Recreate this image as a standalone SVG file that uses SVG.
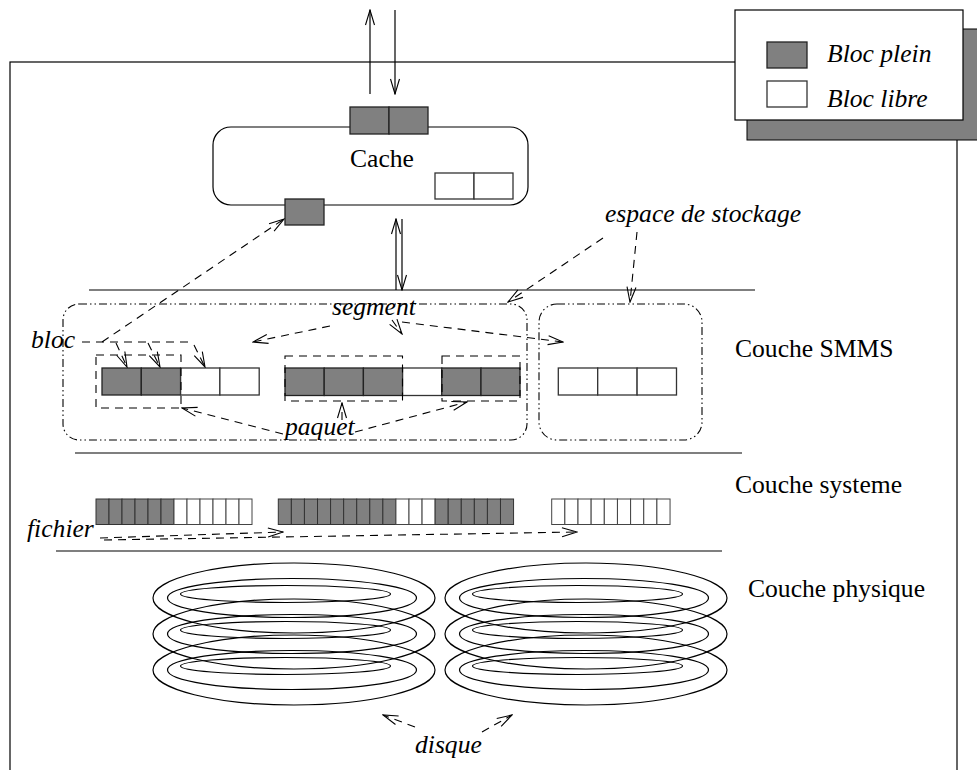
<svg xmlns="http://www.w3.org/2000/svg" width="977" height="770" viewBox="0 0 977 770">
  <defs>
    <style>
      .ln { fill: none; stroke: #000; stroke-width: 1.2; }
      .dash { fill: none; stroke: #000; stroke-width: 1.1; stroke-dasharray: 8 6; }
      .dd { fill: none; stroke: #000; stroke-width: 1.1; stroke-dasharray: 8 3 1.5 3 1.5 3; }
      .full { fill: #808080; stroke: #222; stroke-width: 1.3; }
      .free { fill: #fff; stroke: #333; stroke-width: 1.3; }
      .cell-full { fill: #808080; stroke: #333; stroke-width: 1; }
      .cell-free { fill: #fff; stroke: #444; stroke-width: 1; }
      .disk { fill: none; stroke: #000; stroke-width: 1.2; }
      .t { font-family: "Liberation Serif", "Times New Roman", serif; font-size: 25.6px; fill: #000; }
      .ti { font-family: "Liberation Serif", "Times New Roman", serif; font-size: 25.6px; font-style: italic; fill: #000; }
    </style>
    <marker id="arr" viewBox="-16 -6 17 12" refX="0" refY="0" markerWidth="17" markerHeight="12" markerUnits="userSpaceOnUse" orient="auto">
      <path d="M-15,-4.5 L0,0 L-15,4.5" fill="none" stroke="#000" stroke-width="1.1" stroke-dasharray="none"/>
    </marker>
    <g id="disk-stack">
      <!-- three platters, each with three concentric tracks -->
      <ellipse class="disk" cx="0" cy="0" rx="141" ry="35"/>
      <ellipse class="disk" cx="-2" cy="0" rx="124.5" ry="19.5"/>
      <ellipse class="disk" cx="-8.5" cy="-4" rx="105" ry="8.5"/>
      <ellipse class="disk" cx="0" cy="36" rx="141" ry="35"/>
      <ellipse class="disk" cx="-2" cy="36" rx="124.5" ry="19.5"/>
      <ellipse class="disk" cx="-8.5" cy="32" rx="105" ry="8.5"/>
      <ellipse class="disk" cx="0" cy="72" rx="141" ry="35"/>
      <ellipse class="disk" cx="-2" cy="72" rx="124.5" ry="19.5"/>
      <ellipse class="disk" cx="-8.5" cy="68" rx="105" ry="8.5"/>
    </g>
  </defs>

  <rect width="977" height="770" fill="#fff"/>

  <!-- outer frame -->
  <rect id="frame" x="10" y="62" width="947" height="730" fill="none" stroke="#000" stroke-width="1.2"/>

  <!-- legend with drop shadow -->
  <g id="legend">
    <rect x="747" y="29" width="240" height="111" fill="#808080" stroke="#000" stroke-width="1"/>
    <rect x="735" y="10" width="228" height="110" fill="#fff" stroke="#000" stroke-width="1.2"/>
    <rect class="full" x="767" y="42" width="40" height="26"/>
    <rect class="free" x="767" y="81" width="40" height="26"/>
    <text class="ti" x="827" y="62">Bloc plein</text>
    <text class="ti" x="827" y="107">Bloc libre</text>
  </g>

  <!-- layer separators -->
  <g id="layers">
    <line class="ln" x1="89" y1="290" x2="755" y2="290"/>
    <line class="ln" x1="75" y1="453" x2="742" y2="453"/>
    <line class="ln" x1="56" y1="551" x2="722" y2="551"/>
    <text class="t" x="735" y="357">Couche SMMS</text>
    <text class="t" x="735" y="493">Couche systeme</text>
    <text class="t" x="748" y="597">Couche physique</text>
  </g>

  <!-- cache -->
  <g id="cache">
    <rect class="ln" x="213" y="127" width="315" height="78" rx="18"/>
    <text class="t" x="382" y="167" text-anchor="middle">Cache</text>
    <rect class="full" x="350" y="107" width="39" height="27"/>
    <rect class="full" x="389" y="107" width="39" height="27"/>
    <rect class="free" x="435" y="173" width="39" height="26"/>
    <rect class="free" x="474" y="173" width="39" height="26"/>
    <rect class="full" x="285" y="199" width="39" height="26"/>
  </g>

  <!-- SMMS layer: storage spaces, segments, packets and blocks -->
  <g id="espace-1">
    <rect class="dd" x="63" y="304" width="464" height="136" rx="16"/>
  </g>
  <g id="espace-2">
    <rect class="dd" x="539" y="304" width="163" height="136" rx="18"/>
  </g>
  <g id="segment-1">
    <rect class="full" x="102" y="368" width="39.3" height="27"/>
    <rect class="full" x="141.3" y="368" width="39.3" height="27"/>
    <rect class="free" x="180.6" y="368" width="39.3" height="27"/>
    <rect class="free" x="219.9" y="368" width="39.3" height="27"/>
  </g>
  <g id="segment-2">
    <rect class="full" x="285" y="368" width="39.2" height="27.5"/>
    <rect class="full" x="324.2" y="368" width="39.2" height="27.5"/>
    <rect class="full" x="363.4" y="368" width="39.2" height="27.5"/>
    <rect class="free" x="402.6" y="368" width="39.2" height="27.5"/>
    <rect class="full" x="441.8" y="368" width="39.2" height="27.5"/>
    <rect class="full" x="481" y="368" width="39" height="27.5"/>
  </g>
  <g id="segment-3">
    <rect class="free" x="558.3" y="368" width="39.4" height="27"/>
    <rect class="free" x="597.7" y="368" width="39.4" height="27"/>
    <rect class="free" x="637.1" y="368" width="39.4" height="27"/>
  </g>
  <g id="paquets">
    <rect class="dash" x="96" y="355" width="85" height="53"/>
    <rect class="dash" x="285" y="356" width="117.5" height="45"/>
    <rect class="dash" x="442" y="356" width="78" height="45"/>
  </g>

  <!-- system layer: file blocks -->
  <g id="fichier-1">
    <rect class="cell-full" x="96" y="499" width="13" height="25.5"/>
    <rect class="cell-full" x="109" y="499" width="13" height="25.5"/>
    <rect class="cell-full" x="122" y="499" width="13" height="25.5"/>
    <rect class="cell-full" x="135" y="499" width="13" height="25.5"/>
    <rect class="cell-full" x="148" y="499" width="13" height="25.5"/>
    <rect class="cell-full" x="161" y="499" width="13" height="25.5"/>
    <rect class="cell-free" x="174" y="499" width="13" height="25.5"/>
    <rect class="cell-free" x="187" y="499" width="13" height="25.5"/>
    <rect class="cell-free" x="200" y="499" width="13" height="25.5"/>
    <rect class="cell-free" x="213" y="499" width="13" height="25.5"/>
    <rect class="cell-free" x="226" y="499" width="13" height="25.5"/>
    <rect class="cell-free" x="239" y="499" width="13" height="25.5"/>
  </g>
  <g id="fichier-2">
    <rect class="cell-full" x="278.3" y="499" width="13.07" height="25.5"/>
    <rect class="cell-full" x="291.37" y="499" width="13.07" height="25.5"/>
    <rect class="cell-full" x="304.44" y="499" width="13.07" height="25.5"/>
    <rect class="cell-full" x="317.51" y="499" width="13.07" height="25.5"/>
    <rect class="cell-full" x="330.58" y="499" width="13.07" height="25.5"/>
    <rect class="cell-full" x="343.65" y="499" width="13.07" height="25.5"/>
    <rect class="cell-full" x="356.72" y="499" width="13.07" height="25.5"/>
    <rect class="cell-full" x="369.79" y="499" width="13.07" height="25.5"/>
    <rect class="cell-full" x="382.86" y="499" width="13.07" height="25.5"/>
    <rect class="cell-free" x="395.93" y="499" width="13.07" height="25.5"/>
    <rect class="cell-free" x="409" y="499" width="13.07" height="25.5"/>
    <rect class="cell-free" x="422.07" y="499" width="13.07" height="25.5"/>
    <rect class="cell-full" x="435.14" y="499" width="13.07" height="25.5"/>
    <rect class="cell-full" x="448.21" y="499" width="13.07" height="25.5"/>
    <rect class="cell-full" x="461.28" y="499" width="13.07" height="25.5"/>
    <rect class="cell-full" x="474.35" y="499" width="13.07" height="25.5"/>
    <rect class="cell-full" x="487.42" y="499" width="13.07" height="25.5"/>
    <rect class="cell-full" x="500.49" y="499" width="13.07" height="25.5"/>
  </g>
  <g id="fichier-3">
    <rect class="cell-free" x="551.7" y="499" width="13.15" height="25.5"/>
    <rect class="cell-free" x="564.85" y="499" width="13.15" height="25.5"/>
    <rect class="cell-free" x="578" y="499" width="13.15" height="25.5"/>
    <rect class="cell-free" x="591.15" y="499" width="13.15" height="25.5"/>
    <rect class="cell-free" x="604.3" y="499" width="13.15" height="25.5"/>
    <rect class="cell-free" x="617.45" y="499" width="13.15" height="25.5"/>
    <rect class="cell-free" x="630.6" y="499" width="13.15" height="25.5"/>
    <rect class="cell-free" x="643.75" y="499" width="13.15" height="25.5"/>
    <rect class="cell-free" x="656.9" y="499" width="13.15" height="25.5"/>
  </g>

  <!-- physical layer: two disks -->
  <g id="disque-1">
    <use href="#disk-stack" x="294" y="598"/>
  </g>
  <g id="disque-2">
    <use href="#disk-stack" x="586" y="598"/>
  </g>

  <!-- labels -->
  <g id="labels">
    <text class="ti" x="31" y="348">bloc</text>
    <text class="ti" x="332" y="315">segment</text>
    <text class="ti" x="285" y="435">paquet</text>
    <text class="ti" x="605" y="222">espace de stockage</text>
    <text class="ti" x="27" y="537">fichier</text>
    <text class="ti" x="415" y="753">disque</text>
  </g>

  <!-- connectors -->
  <g id="connectors">
    <!-- external I/O of the cache -->
    <line class="ln" x1="370" y1="94" x2="370" y2="10" marker-end="url(#arr)"/>
    <line class="ln" x1="395" y1="10" x2="395" y2="94" marker-end="url(#arr)"/>
    <!-- cache <-> SMMS -->
    <line class="ln" x1="396" y1="290" x2="396" y2="219" marker-end="url(#arr)"/>
    <line class="ln" x1="402" y1="219" x2="402" y2="290" marker-end="url(#arr)"/>

    <!-- bloc -->
    <line class="dash" x1="82" y1="342" x2="192" y2="342"/>
    <line class="dash" x1="102" y1="342" x2="284" y2="219" marker-end="url(#arr)"/>
    <line class="dash" x1="116" y1="343" x2="127" y2="367" marker-end="url(#arr)"/>
    <line class="dash" x1="148" y1="343" x2="160" y2="367" marker-end="url(#arr)"/>
    <line class="dash" x1="194" y1="345" x2="205" y2="367" marker-end="url(#arr)"/>

    <!-- segment -->
    <line class="dash" x1="330" y1="326" x2="253" y2="342" marker-end="url(#arr)"/>
    <line class="dash" x1="392" y1="320" x2="402" y2="334" marker-end="url(#arr)"/>
    <line class="dash" x1="402" y1="322" x2="563" y2="342" marker-end="url(#arr)"/>

    <!-- espace de stockage -->
    <line class="dash" x1="603" y1="238" x2="508" y2="302" marker-end="url(#arr)"/>
    <line class="dash" x1="637" y1="232" x2="630" y2="302" marker-end="url(#arr)"/>

    <!-- paquet -->
    <line class="dash" x1="283" y1="434" x2="182" y2="408" marker-end="url(#arr)"/>
    <line class="dash" x1="342" y1="420" x2="342" y2="403" marker-end="url(#arr)"/>
    <line class="dash" x1="355" y1="432" x2="467" y2="402" marker-end="url(#arr)"/>

    <!-- fichier -->
    <line class="dash" x1="100" y1="538" x2="283" y2="532" marker-end="url(#arr)"/>
    <line class="dash" x1="104" y1="540" x2="577" y2="532" marker-end="url(#arr)"/>

    <!-- disque -->
    <line class="dash" x1="415" y1="727" x2="383" y2="715" marker-end="url(#arr)"/>
    <line class="dash" x1="482" y1="732" x2="512" y2="715" marker-end="url(#arr)"/>
  </g>
</svg>
